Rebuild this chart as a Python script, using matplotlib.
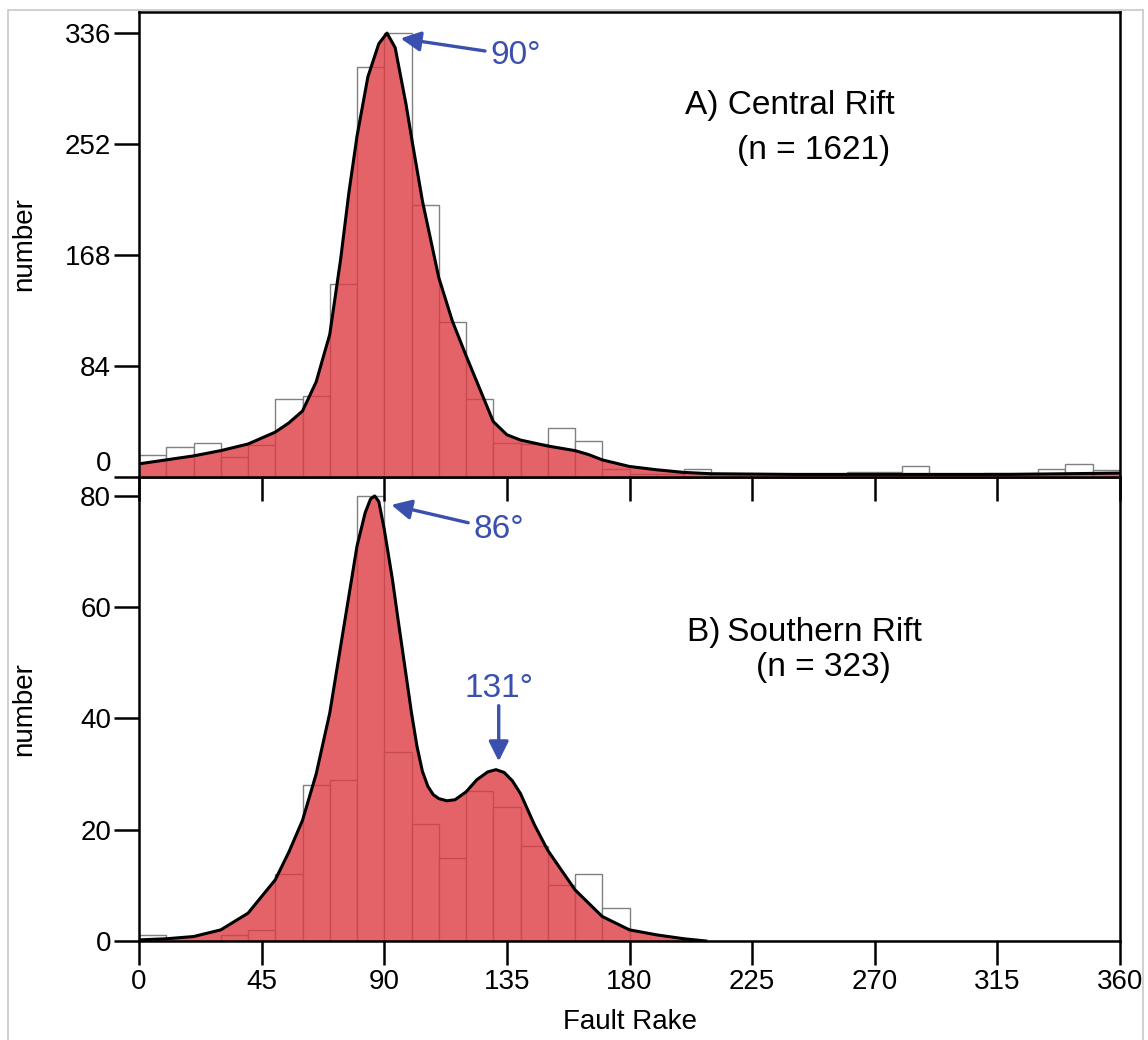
import numpy as np
import matplotlib
matplotlib.use('Agg')
from matplotlib import pyplot as plt
from matplotlib.patches import Rectangle

plt.rcParams['font.family'] = ['Liberation Sans', 'DejaVu Sans']

# bin left edges (10 degree bins)
bin_edges = list(range(0, 360, 10))

# A) Central Rift
counts_a = [17, 23, 26, 15, 24, 59, 61, 146, 310, 336, 206, 117, 59, 26, 25, 37, 27, 6,
            2, 2, 6, 2, 2, 2, 2, 2, 4, 4, 8, 2, 2, 3, 3, 6, 10, 5]
curve_a_x = [0, 10, 20, 30, 40, 50, 55, 60, 65, 70, 74, 77, 80, 84, 88, 91, 94, 98,
             100, 104, 110, 115, 120, 126, 130, 135, 140, 150, 160, 165, 170, 180, 190,
             200, 210, 240, 280, 320, 340, 360]
curve_a_y = [10, 13, 16, 20, 25, 34, 41, 50, 72, 108, 165, 215, 258, 303, 328, 336, 325,
             282, 257, 209, 151, 118, 92, 62, 42, 32, 28, 23.5, 20, 17, 13, 8, 5.5, 3.5,
             2.5, 2, 2, 2, 2.5, 3]

# B) Southern Rift
counts_b = [1, 0, 0, 1, 2, 12, 28, 29, 80, 34, 21, 15, 27, 24, 17, 10, 12, 6,
            0, 0, 0, 0, 0, 0, 0, 0, 0, 0, 0, 0, 0, 0, 0, 0, 0, 0]
curve_b_x = [0, 10, 20, 30, 40, 50, 55, 60, 65, 70, 75, 80, 83, 85, 86.5, 88, 90, 93,
             95, 100, 102, 104, 106, 108, 110, 113, 116, 120, 124, 128, 131, 134, 137,
             140, 145, 150, 160, 170, 180, 190, 200, 208]
curve_b_y = [0.2, 0.4, 0.8, 2, 5, 11, 16, 21.7, 30, 41, 56, 71, 77, 79.5, 80, 79, 74,
             65, 58, 41, 35, 30.5, 27.8, 26.3, 25.6, 25.2, 25.4, 26.8, 29, 30.4, 30.8,
             30.3, 28.8, 26.5, 21, 16.3, 9.2, 4.4, 2, 1.1, 0.4, 0]

fill_col = '#e46368'
edge_col = '#c64a50'
blue = '#3a4fae'

fig = plt.figure(figsize=(11.48, 10.4), dpi=100)
fig.patches.append(Rectangle((0.007, -0.01), 0.989, 1.0, transform=fig.transFigure,
                             fill=False, edgecolor='#c8c8c8', linewidth=1.2))

ax1 = fig.add_axes([0.1211, 0.5413, 0.8545, 0.4472])
ax2 = fig.add_axes([0.1211, 0.0952, 0.8545, 0.4461])
ax2.patch.set_alpha(0)
ax1.set_zorder(2)
ax1.patch.set_alpha(0)


def draw_panel(ax, counts, cx, cy):
    ax.bar(bin_edges, counts, width=10, align='edge', facecolor='white',
           edgecolor='#808080', linewidth=1.0, zorder=1)
    fill = ax.fill_between(cx, cy, 0, color=fill_col, linewidth=0, zorder=2)
    clip = fill.get_paths()[0]
    # same bars again, in red, only inside the density curve
    reds = ax.bar(bin_edges, counts, width=10, align='edge', facecolor=fill_col,
                  edgecolor=edge_col, linewidth=1.0, zorder=3)
    for p in reds:
        p.set_clip_path(clip, ax.transData)
    ax.plot(cx, cy, color='black', linewidth=2.2, zorder=4)
    ax.set_xlim(0, 360)
    ax.set_xticks(range(0, 361, 45))
    for s in ax.spines.values():
        s.set_linewidth(1.8)
        s.set_zorder(5)
    ax.tick_params(axis='both', direction='out', width=1.8, labelsize=20, pad=2)
    ax.tick_params(axis='y', length=18)
    ax.tick_params(axis='x', length=17, pad=3)
    ax.set_ylabel('number', fontsize=20)
    ax.yaxis.set_label_coords(-0.104, 0.5)


draw_panel(ax1, counts_a, curve_a_x, curve_a_y)
ax1.set_ylim(0, 352)
ax1.set_yticks([0, 84, 168, 252, 336])
ax1.tick_params(axis='x', labelbottom=False)
ax1.get_yticklabels()[0].set_verticalalignment('bottom')
ax1.text(200.5, 281.5, 'A) Central Rift', fontsize=24, va='center')
ax1.text(219.5, 247.5, '(n = 1621)', fontsize=24, va='center')
ax1.annotate('90°', xy=(96, 332), xytext=(129, 319), fontsize=24, color=blue,
             va='center', ha='left',
             arrowprops=dict(arrowstyle='-|>', color=blue, lw=2.4, mutation_scale=30,
                             shrinkA=2, shrinkB=0))

draw_panel(ax2, counts_b, curve_b_x, curve_b_y)
ax2.set_ylim(0, 83.4)
ax2.set_yticks([0, 20, 40, 60, 80])
ax2.set_xlabel('Fault Rake', fontsize=20, labelpad=10)
ax2.text(201, 55.5, 'B)\u2009Southern Rift', fontsize=24, va='center')
ax2.text(226.5, 49.1, '(n = 323)', fontsize=24, va='center')
ax2.annotate('86°', xy=(92.6, 78.4), xytext=(122.8, 73.9), fontsize=24, color=blue,
             va='center', ha='left',
             arrowprops=dict(arrowstyle='-|>', color=blue, lw=2.4, mutation_scale=30,
                             shrinkA=2, shrinkB=0))
ax2.text(132, 45.3, '131°', fontsize=24, color=blue, ha='center', va='center')
ax2.annotate('', xy=(132, 32.3), xytext=(132, 42.3),
             arrowprops=dict(arrowstyle='-|>', color=blue, lw=2.4, mutation_scale=30,
                             shrinkA=0, shrinkB=0))

fig.savefig('out.png', dpi=100)
